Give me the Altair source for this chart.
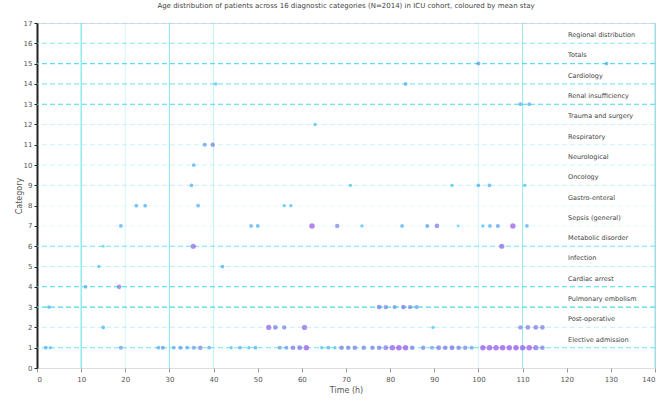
import altair as alt
import pandas as pd

# ---------------- data ----------------
title_text = ("Age distribution of patients across 16 diagnostic categories (N=2014) in ICU cohort, "
              "coloured by mean stay")
x_title = "Time (h)"
y_title = "Category"

x_ticks = [0, 10, 20, 30, 40, 50, 60, 70, 80, 90, 100, 110, 120, 130, 140]
y_ticks = list(range(0, 18))

# horizontal guide lines per category level and their strength
h_levels = [1, 2, 3, 4, 5, 6, 7, 8, 9, 10, 11, 12, 13, 14, 15, 16, 17]
h_strength = [0.7, 0.25, 0.9, 0.9, 0.35, 0.7, 0.15, 0.1, 0.25, 0.25, 0.25, 0.25, 0.9, 0.6, 0.8, 0.6, 0.2]

# vertical guide lines
v_levels = [10, 20, 30, 40, 100, 110, 140]
v_strength = [0.8, 0.2, 0.6, 0.3, 0.2, 0.5, 0.6]

# scatter points: x, category level, colour value
pt_x = [
    100, 129,
    40.5, 83.5,
    109.5, 111.5,
    63,
    38, 39.8,
    35.5,
    35, 71, 94, 100, 102.5, 110.5,
    22.5, 24.5, 36.5, 56, 57.5,
    19, 48.5, 50, 62.3, 68, 73.6, 82.7, 88.4, 90.6, 95.4, 101, 102.6, 104.4, 107.8, 111,
    15, 35.4, 105.3,
    14, 42,
    11, 18.6,
    2.7, 77.5, 79, 81, 83, 84.5, 86,
    15, 52.5, 54, 56, 60.6, 89.7, 109.5, 111.2, 113, 114.5,
    2, 3, 19, 27.5, 28.5, 31, 32.5, 34, 35.5, 37, 39, 44, 46, 48, 49.5, 55, 56.5,
    58, 59.5, 61, 64.5, 66, 67.5, 69, 70.5, 72, 74, 76, 77.5, 79, 80.5, 82, 83.5, 85,
    87.5, 89.5, 91, 92.5, 94, 95.5, 97, 98.5, 101, 102.5, 104, 105.5, 107, 108.5, 110,
    111.5, 113, 114.5,
]
pt_y = [
    15, 15,
    14, 14,
    13, 13,
    12,
    11, 11,
    10,
    9, 9, 9, 9, 9, 9,
    8, 8, 8, 8, 8,
    7, 7, 7, 7, 7, 7, 7, 7, 7, 7, 7, 7, 7, 7, 7,
    6, 6, 6,
    5, 5,
    4, 4,
    3, 3, 3, 3, 3, 3, 3,
    2, 2, 2, 2, 2, 2, 2, 2, 2, 2,
    1, 1, 1, 1, 1, 1, 1, 1, 1, 1, 1, 1, 1, 1, 1, 1, 1,
    1, 1, 1, 1, 1, 1, 1, 1, 1, 1, 1, 1, 1, 1, 1, 1, 1,
    1, 1, 1, 1, 1, 1, 1, 1, 1, 1, 1, 1, 1, 1, 1,
    1, 1, 1,
]
pt_v = [
    0.4, 0.3,
    0.2, 0.3,
    0.3, 0.3,
    0.2,
    0.4, 0.5,
    0.3,
    0.3, 0.2, 0.2, 0.3, 0.3, 0.2,
    0.3, 0.3, 0.3, 0.2, 0.2,
    0.3, 0.3, 0.3, 0.9, 0.5, 0.2, 0.3, 0.4, 0.6, 0.1, 0.2, 0.3, 0.4, 0.9, 0.3,
    0.1, 0.8, 0.8,
    0.2, 0.3,
    0.3, 0.6,
    0.3, 0.6, 0.5, 0.4, 0.6, 0.5, 0.4,
    0.3, 0.8, 0.6, 0.5, 0.8, 0.2, 0.5, 0.6, 0.7, 0.6,
    0.3, 0.2, 0.4, 0.3, 0.4, 0.3, 0.4, 0.3, 0.4, 0.5, 0.3, 0.2, 0.3, 0.2, 0.3, 0.4, 0.4,
    0.6, 0.7, 0.9, 0.2, 0.3, 0.2, 0.6, 0.5, 0.6, 0.5, 0.5, 0.6, 0.7, 0.9, 0.95, 0.9, 0.6,
    0.5, 0.4, 0.7, 0.6, 0.7, 0.6, 0.5, 0.4, 0.9, 0.95, 0.9, 0.95, 0.9, 0.95, 0.9,
    0.95, 0.8, 0.6,
]

# category labels shown at the right of each row
lab_y = [16, 15, 14, 13, 12, 11, 10, 9, 8, 7, 6, 5, 4, 3, 2, 1]
lab_text = [
    "Regional distribution", "Totals", "Cardiology", "Renal insufficiency",
    "Trauma and surgery", "Respiratory", "Neurological", "Oncology",
    "Gastro-enteral", "Sepsis (general)", "Metabolic disorder", "Infection",
    "Cardiac arrest", "Pulmonary embolism", "Post-operative", "Elective admission",
]

# ---------------- build ----------------
df_h = pd.DataFrame({"y": h_levels, "s": h_strength})
df_v = pd.DataFrame({"x": v_levels, "s": v_strength})
df_p = pd.DataFrame({"x": pt_x, "y": pt_y, "v": pt_v})
df_l = pd.DataFrame({"y": [v + 0.4 for v in lab_y], "t": lab_text, "x": [120.3] * len(lab_y)})

xs = alt.Scale(domain=[0, 140], nice=False, zero=False)
ys = alt.Scale(domain=[0, 17], nice=False, zero=False)

xax = alt.Axis(values=x_ticks, grid=False, domain=False, tickColor="#999999", tickSize=4,
               labelFontSize=7, labelColor="#555555", title=x_title, titleFontSize=8,
               titleFontWeight="normal", titleColor="#555555", titlePadding=4, labelPadding=3)
yax = alt.Axis(values=y_ticks, grid=False, domainColor="#222222", domainWidth=2, tickColor="#222222",
               tickSize=3, labelFontSize=7, labelColor="#555555", title=y_title, titleFontSize=8,
               titleFontWeight="normal", titleColor="#555555", titlePadding=0, labelPadding=2)

base_x = alt.X("x:Q", scale=xs, axis=xax)
base_y = alt.Y("y:Q", scale=ys, axis=yax)

hlines = alt.Chart(df_h).mark_rule(color="#33d6e6", strokeDash=[5, 3], strokeWidth=1.1).encode(
    y=alt.Y("y:Q", scale=ys, axis=yax),
    opacity=alt.Opacity("s:Q", scale=None, legend=None),
)
vlines = alt.Chart(df_v).mark_rule(color="#33d6e6", strokeWidth=1).encode(
    x=alt.X("x:Q", scale=xs, axis=xax),
    opacity=alt.Opacity("s:Q", scale=None, legend=None),
)
points = alt.Chart(df_p).mark_circle(opacity=0.7).encode(
    x=base_x,
    y=base_y,
    color=alt.Color("v:Q", scale=alt.Scale(domain=[0, 0.5, 1], range=["#5fe0ee", "#6f7fe0", "#a040e8"]),
                    legend=None),
    size=alt.Size("v:Q", scale=alt.Scale(domain=[0, 1], range=[6, 32]), legend=None),
)
labels = alt.Chart(df_l).mark_text(align="left", baseline="middle", fontSize=6.5, color="#444444").encode(
    x=base_x, y=base_y, text="t:N"
)

chart = alt.layer(vlines, hlines, points, labels).properties(
    width=618,
    height=345,
    title=alt.TitleParams(title_text, fontSize=7, fontWeight="normal", color="#444444", anchor="middle",
                          offset=10),
    padding={"left": 37, "top": 23, "right": 16, "bottom": 34},
    autosize=alt.AutoSizeParams(type="none"),
).configure_view(stroke=None).configure(font="DejaVu Sans")

chart.save("out.html", embed_options={"renderer": "svg", "actions": False})
